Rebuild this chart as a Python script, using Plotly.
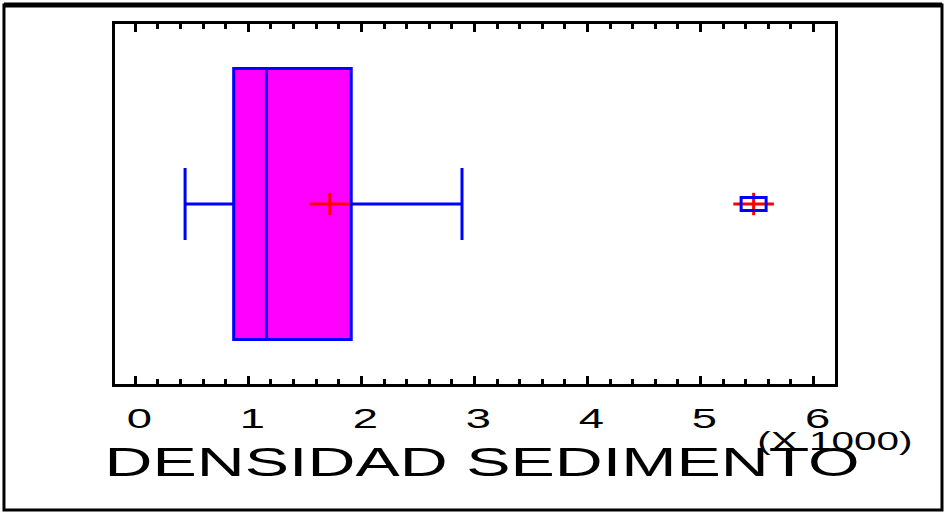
import plotly.graph_objects as go

# Summary statistics of sediment density (in thousands)
CATEGORY = [0]
Q1 = [0.87]
MEDIAN = [1.16]
Q3 = [1.91]
LOWER_FENCE = [0.44]
UPPER_FENCE = [2.89]
MEAN = [1.72]
OUTLIERS = [5.47]

TICK_VALUES = [0, 1, 2, 3, 4, 5, 6]
TICK_TEXT = ["0", "1", "2", "3", "4", "5", "6"]

BLUE = "#0000FF"
RED = "#FF0000"
MAGENTA = "#FF00FF"
FONT = "Liberation Sans, Arial, sans-serif"

fig = go.Figure()

fig.add_trace(go.Box(
    y=CATEGORY, q1=Q1, median=MEDIAN, q3=Q3,
    lowerfence=LOWER_FENCE, upperfence=UPPER_FENCE,
    orientation="h", boxpoints=False,
    width=1.505, whiskerwidth=0.266,
    fillcolor=MAGENTA, line=dict(color=BLUE, width=3),
    hoverinfo="skip", showlegend=False,
))

# red cross marking the mean and the far-out point
for xs in (MEAN, OUTLIERS):
    fig.add_trace(go.Scatter(
        x=xs, y=[0] * len(xs), mode="markers",
        marker=dict(symbol="line-ew", size=29, line=dict(color=RED, width=3)),
        hoverinfo="skip", showlegend=False))
    fig.add_trace(go.Scatter(
        x=xs, y=[0] * len(xs), mode="markers",
        marker=dict(symbol="line-ns", size=16, line=dict(color=RED, width=3)),
        hoverinfo="skip", showlegend=False))

# rectangular outline around each far-out point
for v in OUTLIERS:
    fig.add_shape(type="rect", xref="x", yref="y",
                  xsizemode="pixel", ysizemode="pixel",
                  xanchor=v, yanchor=0,
                  x0=-12.5, x1=12.5, y0=-6.5, y1=6.5,
                  line=dict(color=BLUE, width=3), fillcolor="rgba(0,0,0,0)",
                  layer="above")

# outer frame of the graphic
fig.add_shape(type="rect", xref="paper", yref="paper",
              x0=-0.1542, x1=1.1486, y0=-0.3500, y1=1.0528,
              line=dict(color="black", width=3), layer="above")
fig.add_shape(type="line", xref="paper", yref="paper",
              x0=-0.1542, x1=1.1486, y0=1.0528, y1=1.0528,
              line=dict(color="black", width=5), layer="above")

fig.add_annotation(text="DENSIDAD SEDIMENTO", xref="paper", yref="paper",
                   x=0.5104, y=-0.218, xanchor="center", yanchor="middle",
                   showarrow=False, font=dict(family=FONT, size=41, color="black"))
fig.add_annotation(text="(X 1000)", xref="paper", yref="paper",
                   x=1.0, y=-0.158, xanchor="center", yanchor="middle",
                   showarrow=False, font=dict(family=FONT, size=25, color="black"))

fig.update_xaxes(
    range=[-0.18, 6.19], tickvals=TICK_VALUES, ticktext=TICK_TEXT,
    ticks="inside", ticklen=8, tickwidth=3, tickcolor="black",
    minor=dict(dtick=0.2, ticks="inside", ticklen=5, tickwidth=3, tickcolor="black"),
    showline=True, linecolor="black", linewidth=3, mirror="allticks",
    showgrid=False, zeroline=False, ticklabelshift=4, ticklabelstandoff=7,
    tickfont=dict(family=FONT, size=28, color="black"),
)
fig.update_yaxes(
    range=[-1, 1], showticklabels=False, ticks="",
    showline=True, linecolor="black", linewidth=3, mirror=True,
    showgrid=False, zeroline=False,
)

fig.update_layout(
    width=946, height=514,
    margin=dict(l=115, r=111, t=24, b=130),
    paper_bgcolor="white", plot_bgcolor="white",
)

# widen the lettering horizontally
stretch_js = """
var gd = document.getElementById('{plot_id}');
gd.querySelectorAll('.xtick text, .annotation-text').forEach(function(t){
  var b = t.getBBox();
  var cx = b.x + b.width / 2;
  var tr = t.getAttribute('transform') || '';
  t.setAttribute('transform', tr + ' translate(' + cx + ',0) scale(1.62,1) translate(' + (-cx) + ',0)');
});
"""

fig.write_html("out.html", post_script=stretch_js)
